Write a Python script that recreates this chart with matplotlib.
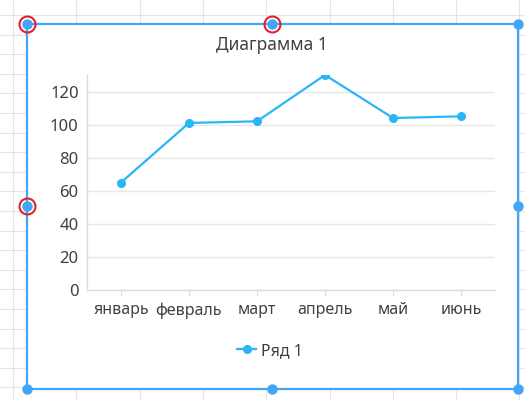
import matplotlib
matplotlib.use("Agg")
import matplotlib.pyplot as plt
from matplotlib.lines import Line2D
from matplotlib.patches import Rectangle

plt.rcParams['font.family'] = ['Noto Sans', 'DejaVu Sans']

# data
months = ['январь', 'февраль', 'март', 'апрель', 'май', 'июнь']
values = [65, 101, 102, 130, 104, 105]
series_name = 'Ряд 1'
title = 'Диаграмма 1'
yticks = [0, 20, 40, 60, 80, 100, 120]

W, H = 525, 400
LINE_BLUE = '#29b6f6'
FRAME_BLUE = '#42a5f5'
TEXT = '#404040'
GRID = '#e4e4e4'


def fx(x):
    return x / W


def fy(y):
    return 1 - y / H


fig = plt.figure(figsize=(W / 100, H / 100), dpi=100)
fig.patch.set_facecolor('white')

# spreadsheet cells behind the chart
for k in range(9):
    x = 13 + 63.3 * k
    fig.add_artist(Line2D([fx(x), fx(x)], [0, 1], color=GRID, lw=0.8,
                          transform=fig.transFigure, zorder=0))
for k in range(21):
    y = 15 + 19.6 * k
    fig.add_artist(Line2D([0, 1], [fy(y), fy(y)], color=GRID, lw=0.8,
                          transform=fig.transFigure, zorder=0))

# chart area and selection frame
x0, x1, y0, y1 = 27, 518, 24, 389
fig.add_artist(Rectangle((fx(x0), fy(y1)), fx(x1) - fx(x0), fy(y0) - fy(y1),
                         facecolor='white', edgecolor=FRAME_BLUE, lw=1.6,
                         transform=fig.transFigure, zorder=1))

# plot
ax = fig.add_axes([fx(87), fy(290), fx(495) - fx(87), fy(75) - fy(290)])
ax.set_zorder(2)
ax.plot(range(len(months)), values, color=LINE_BLUE, lw=1.6, marker='o',
        markersize=5.5, label=series_name, clip_on=True)
ax.set_xlim(-0.5, len(months) - 0.5)
ax.set_ylim(0, 130)
ax.set_yticks(yticks)
ax.set_xticks(range(len(months)))
ax.set_xticklabels(months)
ax.grid(axis='y', color='#e6e6e6', lw=1)
ax.set_axisbelow(True)
for side in ['top', 'right']:
    ax.spines[side].set_visible(False)
for side in ['left', 'bottom']:
    ax.spines[side].set_color('#dcdcdc')
    ax.spines[side].set_linewidth(1)
ax.tick_params(axis='y', length=0, pad=6, labelsize=12, labelcolor=TEXT)
ax.tick_params(axis='x', length=4, color='#dcdcdc', pad=5, labelsize=11.5,
               labelcolor=TEXT)
ax.set_facecolor('none')

fig.text(fx(272), fy(45), title, ha='center', va='center', fontsize=12.5,
         color=TEXT, zorder=3)

fig.legend(loc='center', bbox_to_anchor=(fx(270), fy(351)), frameon=False,
           fontsize=11.5, labelcolor=TEXT, handlelength=1.2, handletextpad=0.3)

# selection handles
handles = [(x0, y0), (272, y0), (x1, y0), (x0, 206), (x1, 206),
           (x0, y1), (272, y1), (x1, y1)]
for hx, hy in handles:
    fig.add_artist(Line2D([fx(hx)], [fy(hy)], marker='o', markersize=6.5,
                          color=FRAME_BLUE, transform=fig.transFigure, zorder=4))
for hx, hy in [(x0, y0), (272, y0), (x0, 206)]:
    fig.add_artist(Line2D([fx(hx)], [fy(hy)], marker='o', markersize=11.5,
                          markerfacecolor='none', markeredgecolor='#e0202a',
                          markeredgewidth=1.5, transform=fig.transFigure,
                          zorder=5))

fig.savefig('out.png', dpi=100)
